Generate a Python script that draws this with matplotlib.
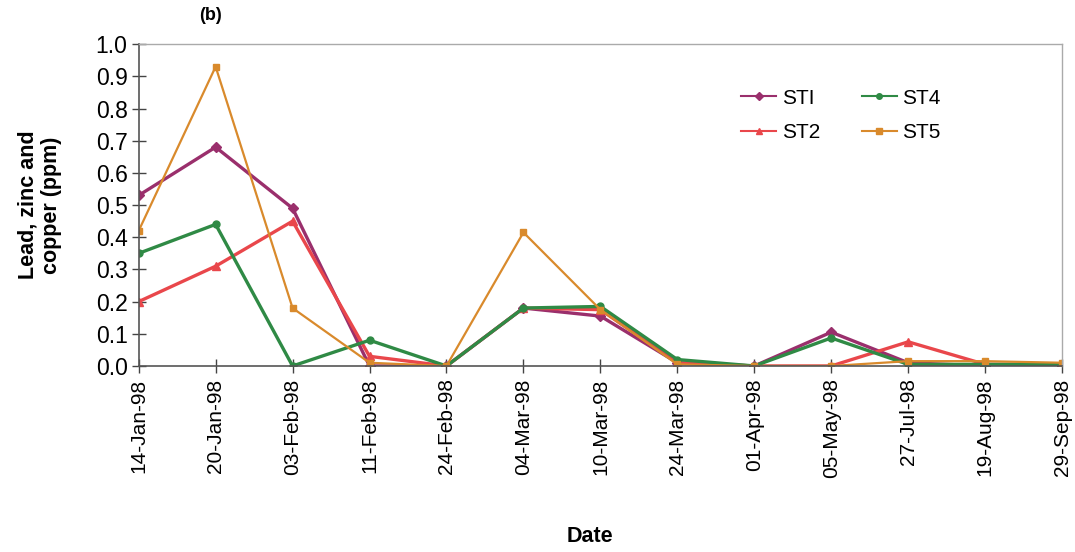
import matplotlib.pyplot as plt

# Data
dates = ['14-Jan-98', '20-Jan-98', '03-Feb-98', '11-Feb-98', '24-Feb-98', '04-Mar-98',
         '10-Mar-98', '24-Mar-98', '01-Apr-98', '05-May-98', '27-Jul-98', '19-Aug-98',
         '29-Sep-98']
st1 = [0.53, 0.68, 0.49, 0.00, 0.00, 0.18, 0.155, 0.01, 0.00, 0.105, 0.01, 0.00, 0.00]
st2 = [0.20, 0.31, 0.45, 0.03, 0.00, 0.18, 0.175, 0.01, 0.00, 0.00, 0.075, 0.005, 0.005]
st4 = [0.35, 0.44, 0.00, 0.08, 0.00, 0.18, 0.185, 0.02, 0.00, 0.087, 0.005, 0.005, 0.005]
st5 = [0.42, 0.93, 0.18, 0.01, 0.00, 0.415, 0.175, 0.005, 0.00, 0.00, 0.015, 0.015, 0.01]

plt.rcParams['font.family'] = ['Liberation Sans', 'DejaVu Sans']

fig = plt.figure(figsize=(10.75, 5.52), dpi=100)
ax = fig.add_axes([0.129, 0.337, 0.859, 0.583])

x = range(len(dates))
ax.plot(x, st1, color='#9a2f6c', lw=2.4, marker='D', ms=5, label='STI')
ax.plot(x, st2, color='#e9474b', lw=2.4, marker='^', ms=6, label='ST2')
ax.plot(x, st4, color='#2f8a45', lw=2.4, marker='o', ms=5, label='ST4')
ax.plot(x, st5, color='#d98a2c', lw=1.6, marker='s', ms=4.5, label='ST5')

ax.set_xlim(0, len(dates) - 1)
ax.set_ylim(0, 1.0)
ax.set_yticks([i / 10 for i in range(11)])
ax.set_yticklabels([f'{i / 10:.1f}' for i in range(11)], fontsize=16.5)
ax.set_xticks(list(x))
ax.set_xticklabels(dates, rotation=90, fontsize=15)

ax.tick_params(axis='y', direction='inout', length=10, width=1, color='#444444', pad=3)
ax.tick_params(axis='x', direction='inout', length=10, width=1, color='#444444', pad=4)

for s in ['left', 'bottom']:
    ax.spines[s].set_color('#555555')
    ax.spines[s].set_linewidth(1.2)
for s in ['top', 'right']:
    ax.spines[s].set_color('#aaaaaa')
    ax.spines[s].set_linewidth(1.0)

ax.set_ylabel('Lead, zinc and\ncopper (ppm)', fontsize=15.5, fontweight='bold', labelpad=24)
fig.text(590 / 1075, 1 - 537 / 552, 'Date', fontsize=15.5, fontweight='bold',
         ha='center', va='center')

leg = ax.legend(ncol=2, loc='upper left', bbox_to_anchor=(0.632, 0.92), frameon=False,
                fontsize=15, handlelength=1.7, handletextpad=0.25, columnspacing=2.0,
                labelspacing=0.75)
for h in leg.legend_handles:
    h.set_linewidth(1.5)
    h.set_markersize(4)

fig.text(210 / 1075, 1 - 16 / 552, '(b)', fontsize=13, fontweight='bold',
         ha='center', va='center')

plt.savefig('out.png', dpi=100)
